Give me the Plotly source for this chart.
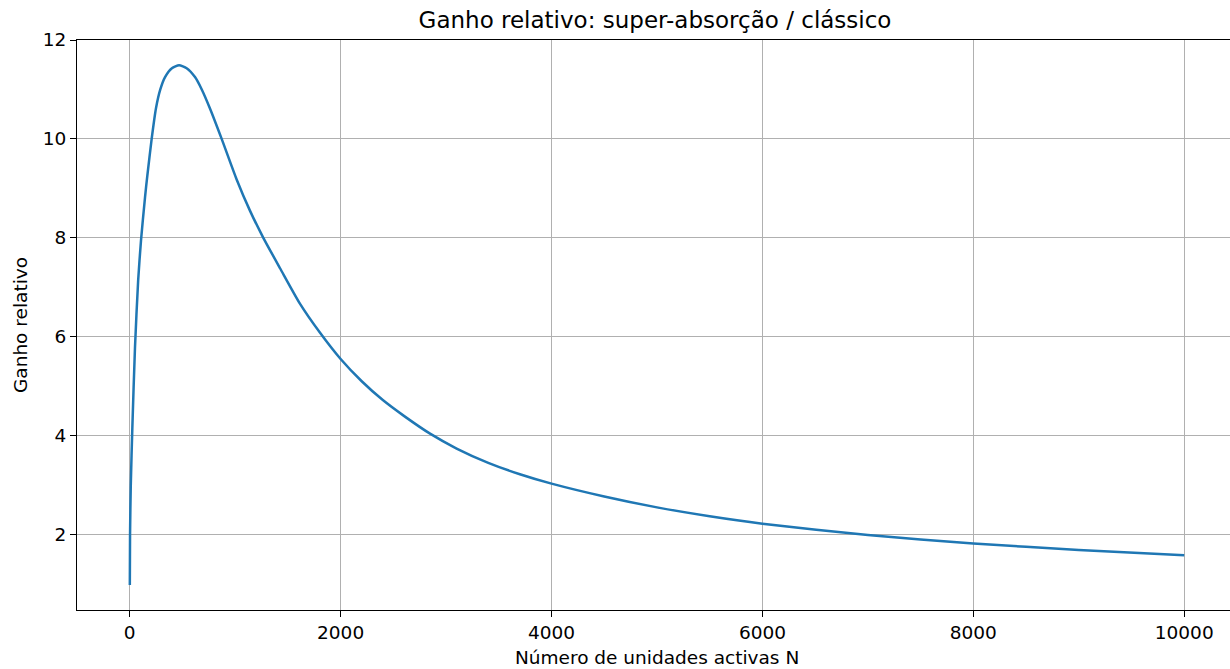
import plotly.graph_objects as go

# values
n_units = [1, 3, 10, 25, 50, 80, 107, 145, 167, 208, 249, 290, 335, 400, 468,
           540, 619, 683, 760, 872, 1014, 1140, 1267, 1427, 1614, 1805, 2000,
           2200, 2400, 2600, 2848, 3100, 3400, 3700, 4000, 4500, 5000, 5500,
           6000, 7000, 8000, 9000, 10000]
gain = [0.98, 2.0, 3.0, 4.17, 5.79, 7.14, 7.95, 8.82, 9.26, 10.0, 10.62, 11.0,
        11.25, 11.43, 11.49, 11.43, 11.25, 11.0, 10.62, 10.0, 9.18, 8.55, 8.0,
        7.38, 6.67, 6.08, 5.55, 5.1, 4.72, 4.4, 4.04, 3.74, 3.45, 3.22, 3.03,
        2.77, 2.55, 2.37, 2.22, 1.99, 1.82, 1.69, 1.58]

x_ticks = [0, 2000, 4000, 6000, 8000, 10000]
y_ticks = [2, 4, 6, 8, 10, 12]

font_family = "DejaVu Sans"

fig = go.Figure()
fig.add_trace(
    go.Scatter(
        x=n_units,
        y=gain,
        mode="lines",
        line=dict(color="#1f77b4", width=2.5, shape="spline", smoothing=0.6),
        showlegend=False,
    )
)

axis_common = dict(
    automargin=False,
    showgrid=True,
    gridcolor="#b0b0b0",
    gridwidth=1,
    zeroline=False,
    showline=True,
    linecolor="black",
    linewidth=1.2,
    ticks="outside",
    ticklen=6,
    tickwidth=1.2,
    tickcolor="black",
    tickformat="d",
    tickfont=dict(family=font_family, size=18.5, color="black"),
)

fig.update_layout(
    width=1230,
    height=669,
    margin=dict(l=77, r=0, t=40, b=59),
    paper_bgcolor="white",
    plot_bgcolor="white",
    font=dict(family=font_family, color="black"),
    title=dict(
        text="Ganho relativo: super-absorção / clássico",
        x=655 / 1230,
        xanchor="center",
        y=1 - 20 / 669,
        yanchor="middle",
        font=dict(family=font_family, size=23, color="black"),
    ),
    xaxis=dict(range=[-500, 10434], tickvals=x_ticks, mirror=True, **axis_common),
    yaxis=dict(range=[0.475, 12.0], tickvals=y_ticks, mirror=False, **axis_common),
    annotations=[
        dict(
            text="Número de unidades activas N",
            xref="paper", yref="paper",
            x=0.503, y=0,
            xanchor="center", yanchor="middle",
            yshift=-47,
            showarrow=False,
            font=dict(family=font_family, size=18.5, color="black"),
        ),
        dict(
            text="Ganho relativo",
            xref="paper", yref="paper",
            x=0, y=0.5,
            xanchor="center", yanchor="middle",
            xshift=-57,
            textangle=-90,
            showarrow=False,
            font=dict(family=font_family, size=18.5, color="black"),
        ),
    ],
)

# the page's default body margin would push the figure 8px down and right
fig.write_html(
    "out.html",
    config={"displayModeBar": False},
    post_script="document.body.style.margin='0';document.body.style.overflow='hidden';",
)
